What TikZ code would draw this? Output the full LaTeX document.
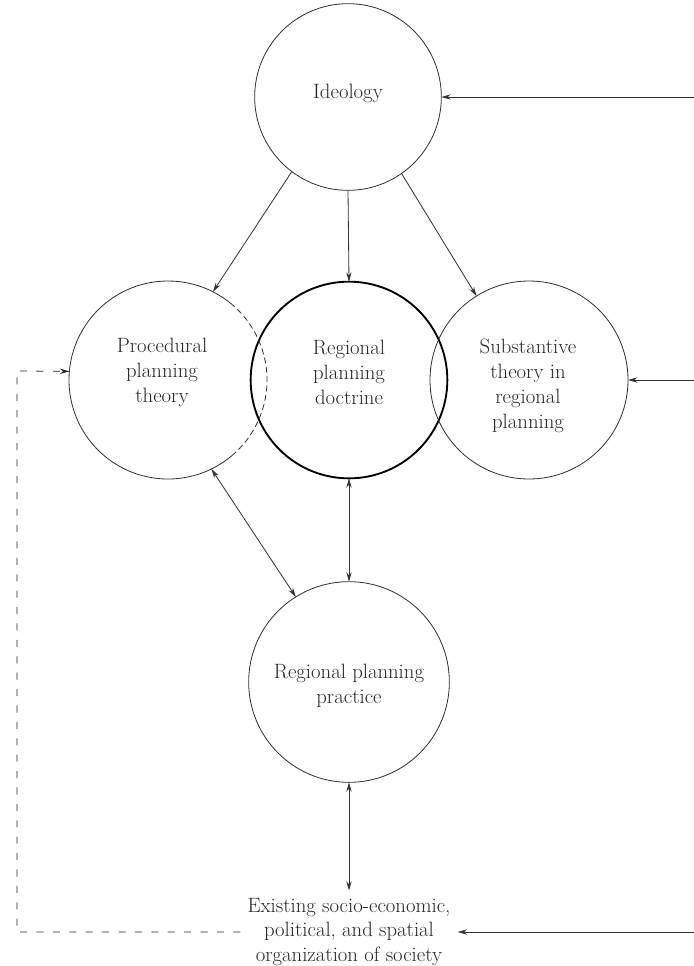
\documentclass[tikz,border=0pt]{standalone}
\usetikzlibrary{arrows.meta}
\begin{document}
\begin{tikzpicture}[x=0.03cm,y=-0.03cm,
  ln/.style={draw=black!80, line width=0.7pt},
  ring/.style={circle, inner sep=0pt, outer sep=0pt},
  lbl/.style={align=center, inner sep=0pt, font=\fontsize{17.7}{21.3}\selectfont, text=black!85},
  tip/.style={-{Stealth[length=8pt,width=4.5pt]}},
  dtip/.style={{Stealth[length=8pt,width=4.5pt]}-{Stealth[length=8pt,width=4.5pt]}},
  fbline/.style={draw=black!85, dash pattern=on 6pt off 8pt}]
\useasboundingbox (0,0) rectangle (694,966);
% circles
\node[ring, ln, minimum size=5.6cm] (ideo) at (348,97) {};
\node[ring, minimum size=5.94cm] (proc) at (168,380) {};
\node[ring, draw=black, line width=1.6pt, minimum size=5.9cm] (doc) at (349,380) {};
\node[ring, ln, minimum size=5.94cm] (sub) at (529,380) {};
\node[ring, ln, minimum size=6.02cm] (prac) at (349,682) {};
\draw[ln] (proc.50) arc[start angle=50, end angle=310, radius=2.97cm];
\draw[ln, dash pattern=on 5pt off 3pt] (proc.-50) arc[start angle=-50, end angle=50, radius=2.97cm];
% labels
\node[lbl] (ideoT) at (348,93) {Ideology};
\node[lbl] (procT) at (162,372) {Procedural\\planning\\theory};
\node[lbl] (docT) at (349,372) {Regional\\planning\\doctrine};
\node[lbl] (subT) at (528,386) {Substantive\\theory in\\regional\\planning};
\node[lbl] (pracT) at (349,686) {Regional planning\\practice};
\node[lbl, inner sep=6pt] (soc) at (349,932) {Existing socio-economic,\\political, and spatial\\organization of society};
% outside coordinates
\coordinate (rA) at (694,97);
\coordinate (rB) at (694,380);
\coordinate (rC) at (694,932);
\coordinate (cT) at (17,371);
\coordinate (cB) at (17,932);
% connectors
\draw[ln, tip] (ideo.233.6) -- (proc.63.4);
\draw[ln, tip] (ideo.270) -- (doc.90);
\draw[ln, tip] (ideo.305.4) -- (sub.122.4);
\draw[ln, dtip] (proc.296.6) -- (prac.122.4);
\draw[ln, dtip] (doc.270) -- (prac.90);
\draw[ln, dtip] (prac.270) -- (soc.north);
\draw[ln, tip] (rA) -- (ideo.east);
\draw[ln, tip] (rB) -- (sub.east);
\draw[ln, tip] (rC) -- (soc.east);
\draw[fbline, line width=0.7pt, tip] (soc.west) -- (cB) -- (cT) -- (proc.175);
\end{tikzpicture}
\end{document}
